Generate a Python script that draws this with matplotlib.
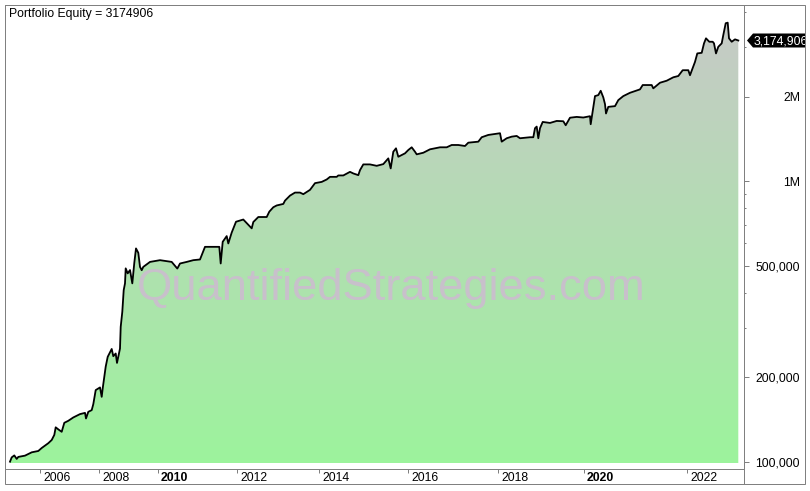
import matplotlib

matplotlib.use("Agg")
import matplotlib.pyplot as plt
import numpy as np
from matplotlib.lines import Line2D
from matplotlib.patches import Polygon, Rectangle
from matplotlib.ticker import FixedLocator, NullFormatter
from matplotlib.transforms import Bbox, ScaledTranslation, TransformedBbox

W, H, DPI = 810, 491, 100
PX = 72.0 / DPI  # points per pixel
FRAME = "#808080"

# bar index (trading-day axis, compressed like the source chart) and equity
bars = [
    0, 1.7, 4.3, 6.7, 8.3, 15, 21.7, 28.3, 31.7, 38.3, 41.7, 44.3, 45.7, 48.3,
    51.7, 54.3, 58.3, 63.3, 70, 75, 76, 78.3, 81.7, 83.3, 85.7, 90, 91.7, 92.7,
    94.3, 95.7, 97.7, 101.7, 103.3, 105.7, 107, 110, 110.7, 112.3, 113.7, 115,
    115.7, 117.7, 120, 122.3, 124.3, 126, 128.3, 130, 131.7, 133.3, 140, 150,
    156.7, 161.7, 167.3, 170, 176.7, 183.3, 190, 195, 203.3, 209.3, 210.7,
    212.7, 216.7, 218.3, 221.7, 226, 233.3, 241.7, 243.3, 248.3, 256.7, 259.3,
    263.3, 266.7, 273.3, 275, 280, 285, 290, 293.3, 300, 305, 311.7, 316.7,
    320, 326.7, 328.3, 333.3, 340, 343.3, 348.3, 350, 353.3, 360, 366.7,
    373.3, 378.3, 380.7, 383.3, 386, 388.3, 391.7, 395, 398.3, 401.7, 405,
    406.7, 413.3, 420, 430, 436.7, 441.7, 448.3, 455, 458.3, 468.3, 471.7,
    478.3, 490, 491.7, 496.7, 501.7, 506.7, 510, 520, 523.3, 525, 526.7,
    528.3, 530, 532.7, 540, 546.7, 553.3, 555.7, 560, 566.7, 573.3, 580,
    580.7, 583.3, 585, 588.3, 590.7, 593.3, 595, 596, 598.3, 605, 608.3,
    613.3, 620, 630, 632.7, 641.7, 643.3, 650, 656.7, 663.3, 668.3, 672.7,
    678.3, 680, 685, 687.3, 691.7, 694, 696, 699.3, 702.7, 704, 706, 708.3,
    711.7, 713.3, 715.7, 717.7, 719, 721.7, 725, 728.3,
]
equity = [
    100000, 103600, 105300, 102300, 104000, 105100, 108000, 109200, 111900,
    116400, 119500, 124600, 132600, 130400, 127800, 137600, 139900, 143800,
    147800, 149300, 142600, 150600, 152700, 160400, 180000, 184000, 170300,
    182500, 200900, 218200, 236500, 252300, 237800, 243100, 225000, 253200,
    302500, 342200, 409000, 432300, 489000, 469300, 482200, 432300, 511600,
    576000, 555500, 495000, 481600, 495000, 515600, 523000, 518600, 515600,
    488200, 508900, 515600, 523000, 526000, 583500, 583500, 583500, 508900,
    608000, 637300, 600000, 656000, 717000, 730200, 679100, 715300, 745400,
    745400, 778800, 807600, 819600, 829900, 852800, 888700, 911000, 911000,
    899100, 931500, 984300, 994500, 1014400, 1036500, 1036500, 1048500,
    1048500, 1080000, 1065900, 1051100, 1095300, 1148000, 1148000, 1134800,
    1150900, 1206300, 1110800, 1273900, 1310200, 1222300, 1239600, 1257200,
    1292000, 1321100, 1273900, 1246800, 1263500, 1299500, 1321100, 1321100,
    1346400, 1346400, 1335400, 1372300, 1383600, 1434800, 1462200, 1482900,
    1383600, 1423000, 1441900, 1450200, 1423000, 1434800, 1434800, 1545400,
    1566000, 1423000, 1545400, 1626900, 1613600, 1640300, 1636300, 1583200,
    1684300, 1695500, 1687000, 1705300, 1596300, 1841400, 2011400, 2028100,
    2101300, 1989900, 1882900, 1743700, 1841400, 1852100, 1946100, 2011400,
    2066900, 2125700, 2202500, 2202500, 2143400, 2244700, 2282100, 2347000,
    2372300, 2487700, 2487700, 2387100, 2664100, 2855400, 2869500, 3101000,
    3231600, 3142200, 3142200, 3101000, 2855400, 3015100, 3101000, 3320800,
    3657500, 3675800, 3231600, 3142200, 3205100, 3174906,
]

year_labels = ["2006", "2008", "2010", "2012", "2014", "2016", "2018", "2020", "2022"]
year_bars = [30, 89, 148, 227, 309, 398, 488, 574, 677]
bold_years = {"2010", "2020"}

y_major = [100000, 200000, 500000, 1000000, 2000000]
y_major_labels = ["100,000", "200,000", "500,000", "1M", "2M"]
y_minor = [300000, 400000, 600000, 700000, 800000, 900000, 3000000, 4000000]

fill_base = 98940
y_limits = (94180, 4249000)
x_limits = (-5, 734)

plt.rcParams["font.family"] = ["Liberation Sans", "DejaVu Sans"]
plt.rcParams["font.size"] = 8.8

fig = plt.figure(figsize=(W / DPI, H / DPI), dpi=DPI, facecolor="white")
ax = fig.add_axes([5 / W, (H - 469) / H, 739 / W, 464 / H])
ax.set_yscale("log")
ax.set_xlim(*x_limits)
ax.set_ylim(*y_limits)
ax.set_autoscale_on(False)

# vertical gradient clipped to the area under the equity curve
grad = np.linspace(0.0, 1.0, 256)[:, None, None]
bottom_rgb = np.array([156, 244, 156]) / 255.0
top_rgb = np.array([200, 200, 200]) / 255.0
image = ax.imshow(
    bottom_rgb + (top_rgb - bottom_rgb) * grad,
    extent=(0, 1, 0, 1),
    transform=ax.transAxes,
    origin="lower",
    aspect="auto",
    interpolation="bilinear",
    zorder=1,
)
area = ax.fill_between(bars, equity, fill_base, facecolor="none", edgecolor="none")
image.set_clip_path(area.get_paths()[0], ax.transData)

ax.text(
    137 / W, (H - 300) / H, "QuantifiedStrategies.com",
    transform=fig.transFigure, fontsize=32.7, color="#c8c0cb",
    ha="left", va="baseline", zorder=2,
)
ax.plot(bars, equity, color="black", lw=1.3, zorder=3)

for side in ("left", "right", "top", "bottom"):
    ax.spines[side].set_color(FRAME)
    ax.spines[side].set_linewidth(PX)

ax.yaxis.tick_right()
ax.yaxis.set_major_locator(FixedLocator(y_major))
ax.yaxis.set_minor_locator(FixedLocator(y_minor))
ax.yaxis.set_minor_formatter(NullFormatter())
ax.set_yticks(y_major, y_major_labels)
ax.tick_params(axis="y", which="major", direction="out", length=5 * PX,
               width=PX, color=FRAME, pad=51 * PX, labelcolor="black")
ax.tick_params(axis="y", which="minor", direction="out", length=2.5 * PX,
               width=PX, color=FRAME)
for label in ax.get_yticklabels():
    label.set_horizontalalignment("right")

ax.set_xticks(year_bars, year_labels)
ax.tick_params(axis="x", which="major", direction="out", length=4 * PX,
               width=PX, color=FRAME, pad=-1 * PX, labelcolor="black")
shift = ScaledTranslation(3 / DPI, 0, fig.dpi_scale_trans)
for label in ax.get_xticklabels():
    label.set_horizontalalignment("left")
    label.set_transform(label.get_transform() + shift)
    if label.get_text() in bold_years:
        label.set_fontweight("bold")

fig.text(9 / W, (H - 17) / H, f"Portfolio Equity = {equity[-1]}",
         ha="left", va="baseline", color="black")

# last value marker on the price axis
last = equity[-1]
half = 10 ** (7 / 280.5)
ytrans = ax.get_yaxis_transform()
clip = TransformedBbox(Bbox.from_extents(0, 0, 805 / W, 1), fig.transFigure)
marker = Polygon(
    [(1 + 3 / 739, last), (1 + 9 / 739, last * half), (1 + 70 / 739, last * half),
     (1 + 70 / 739, last / half), (1 + 9 / 739, last / half)],
    closed=True, facecolor="black", edgecolor="none", transform=ytrans,
)
marker.set_clip_box(clip)
fig.add_artist(marker)
value_text = fig.text(1 + 10 / 739, last, f"{last:,}", transform=ytrans,
                      color="white", ha="left", va="center_baseline")
value_text.set_clip_box(clip)
value_text.set_clip_on(True)

fig.add_artist(Rectangle((5 / W, 7 / H), 800 / W, 479 / H, transform=fig.transFigure,
                         fill=False, edgecolor=FRAME, lw=PX))
fig.add_artist(Line2D([744 / W, 744 / W], [7 / H, 22 / H], transform=fig.transFigure,
                      color=FRAME, lw=PX))

fig.savefig("out.png", dpi=DPI)
